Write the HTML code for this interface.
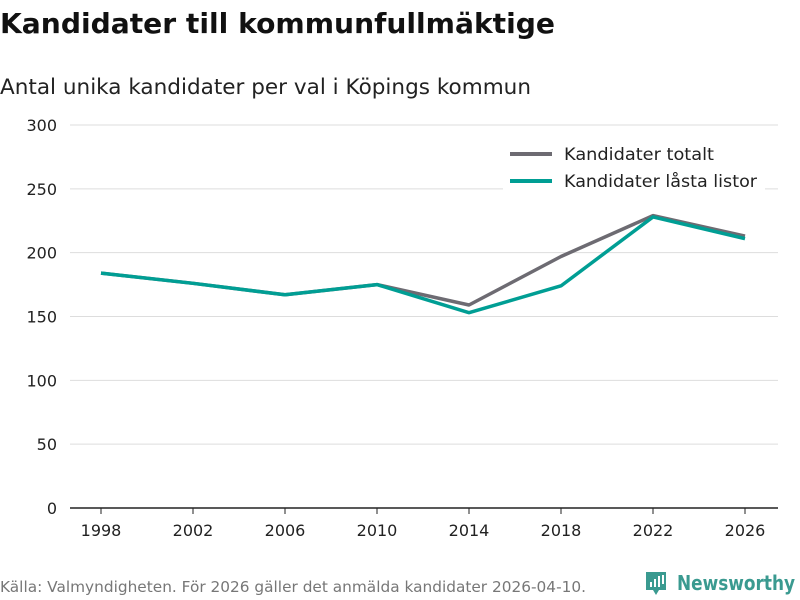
<!DOCTYPE html>
<html><head><meta charset="utf-8"><style>
body{margin:0;width:800px;height:600px;background:#fff;font-family:"DejaVu Sans","Liberation Sans",sans-serif;overflow:hidden}
svg{display:block}
</style></head><body>
<svg width="800" height="600">
<text x="0" y="33" font-size="28" font-weight="bold" fill="#111" textLength="555" lengthAdjust="spacingAndGlyphs">Kandidater till kommunfullmäktige</text>
<text x="0" y="94" font-size="21.5" fill="#222" textLength="531" lengthAdjust="spacingAndGlyphs">Antal unika kandidater per val i Köpings kommun</text>
<g id="grid"></g>
<g id="yt"></g>
<g id="xt"></g>
<g id="lines"></g>
<rect x="503" y="138" width="262" height="60" fill="#fff"/>
<g><line x1="510" y1="154" x2="552" y2="154" stroke="#6d6b72" stroke-width="4"/><text x="564" y="160" font-size="17" fill="#222" textLength="150" lengthAdjust="spacingAndGlyphs">Kandidater totalt</text></g>
<g><line x1="510" y1="181" x2="552" y2="181" stroke="#009e94" stroke-width="4"/><text x="564" y="187" font-size="17" fill="#222" textLength="193" lengthAdjust="spacingAndGlyphs">Kandidater låsta listor</text></g>
<text x="0" y="592" font-size="15" fill="#777" textLength="586" lengthAdjust="spacingAndGlyphs">Källa: Valmyndigheten. För 2026 gäller det anmälda kandidater 2026-04-10.</text>
<g>
<path d="M646 572h20v18h-7l-3 5-3-5h-7z" fill="#3a9a90"/>
<rect x="650" y="582" width="2" height="5" fill="#fff"/><rect x="654" y="579" width="2" height="8" fill="#fff"/><rect x="658" y="576" width="2" height="11" fill="#fff"/><rect x="662" y="575" width="2" height="9" fill="#fff"/>
<text x="677" y="590" font-size="20" fill="#3a9a90" font-weight="bold" textLength="118" lengthAdjust="spacingAndGlyphs">Newsworthy</text>
</g>
</svg>
<script>
const years=[1998,2002,2006,2010,2014,2018,2022,2026];
const totalt=[184,176,167,175,159,197,229,213];
const lasta=[184,176,167,175,153,174,228,211];
const yTicks=[0,50,100,150,200,250,300];
const xTicks=[1998,2002,2006,2010,2014,2018,2022,2026];
const NS="http://www.w3.org/2000/svg";
const X=v=>101+(v-1998)*(745-101)/28;
const Y=v=>508-v*(508-125)/300;
function el(t,a,p){const e=document.createElementNS(NS,t);for(const k in a)e.setAttribute(k,a[k]);p.appendChild(e);return e;}
const grid=document.getElementById('grid'),yt=document.getElementById('yt'),xt=document.getElementById('xt'),lines=document.getElementById('lines');
yTicks.forEach(v=>{
 const l=el('line',{x1:70,x2:778,y1:Y(v),y2:Y(v),stroke:v===0?'#222':'#ddd','stroke-width':v===0?1.5:1},grid);
 
 
 const t=el('text',{x:57,y:Y(v)+6,'font-size':16,fill:'#222','text-anchor':'end'},yt);t.textContent=v;
 
 
});
xTicks.forEach(v=>{
 const tk=el('line',{x1:X(v),x2:X(v),y1:508,y2:514,stroke:'#222'},xt);
 
 
 const t=el('text',{x:X(v),y:536,'font-size':16,fill:'#222','text-anchor':'middle'},xt);t.textContent=v;
 
 
});
function line(vals,c,name){
 const p=el('polyline',{points:vals.map((v,i)=>X(years[i])+','+Y(v)).join(' '),fill:'none',stroke:c,'stroke-width':3.5,'stroke-linejoin':'round'},lines);
 
 
}
line(totalt,'#6d6b72','line-kandidater-totalt');
line(lasta,'#009e94','line-kandidater-lasta-listor');
</script>
</body></html>
